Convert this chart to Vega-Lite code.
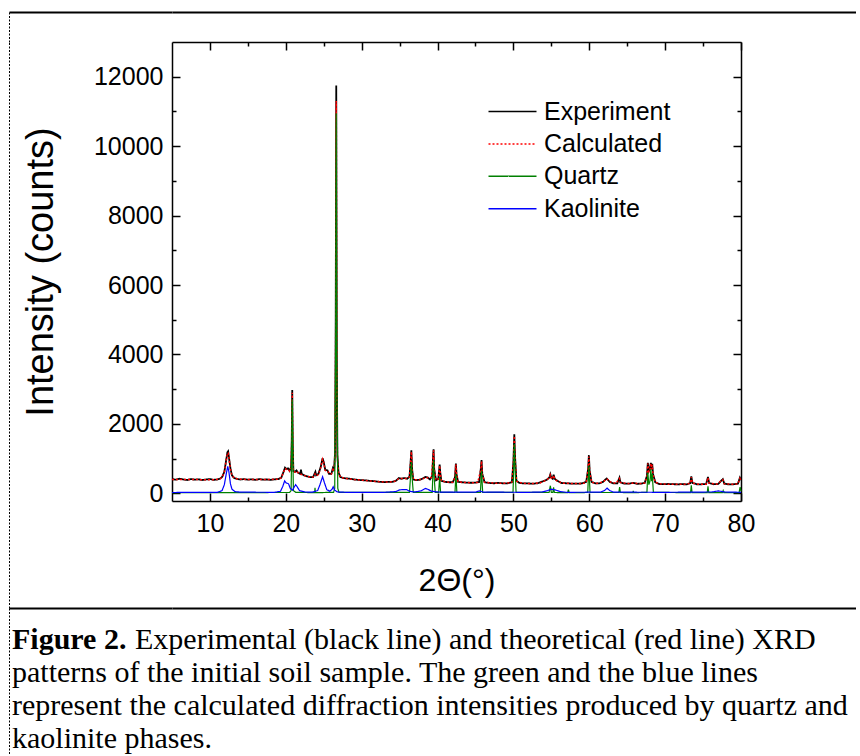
{
"$schema":"https://vega.github.io/schema/vega-lite/v6.json",
"padding":{"left":6,"top":12,"right":0,"bottom":0},
"columns":2,"spacing":0,"bounds":"flush","align":"each",
"config":{"view":{"stroke":null},"font":"Liberation Sans",
 "axis":{"grid":false,"domainColor":"black","tickColor":"black","labelColor":"black","titleColor":"black","labelFont":"Liberation Sans","titleFont":"Liberation Sans","titleFontWeight":"normal"}},
"datasets":{
"experiment":[
{"series":"Experiment","x":5.0,"y":410},{"series":"Experiment","x":5.5,"y":395},{"series":"Experiment","x":6.0,"y":420},{"series":"Experiment","x":6.5,"y":400},{"series":"Experiment","x":7.0,"y":385},{"series":"Experiment","x":7.5,"y":410},{"series":"Experiment","x":8.0,"y":395},{"series":"Experiment","x":8.5,"y":405},{"series":"Experiment","x":9.0,"y":385},{"series":"Experiment","x":9.5,"y":400},{"series":"Experiment","x":10.0,"y":410},{"series":"Experiment","x":10.5,"y":390},{"series":"Experiment","x":11.0,"y":400},{"series":"Experiment","x":11.3,"y":420},{"series":"Experiment","x":11.6,"y":470},{"series":"Experiment","x":11.9,"y":620},{"series":"Experiment","x":12.1,"y":900},{"series":"Experiment","x":12.3,"y":1180},{"series":"Experiment","x":12.4,"y":1210},{"series":"Experiment","x":12.5,"y":1050},{"series":"Experiment","x":12.7,"y":720},{"series":"Experiment","x":12.9,"y":520},{"series":"Experiment","x":13.2,"y":440},{"series":"Experiment","x":13.6,"y":415},{"series":"Experiment","x":14.0,"y":400},{"series":"Experiment","x":14.5,"y":410},{"series":"Experiment","x":15.0,"y":395},{"series":"Experiment","x":15.5,"y":405},{"series":"Experiment","x":16.0,"y":390},{"series":"Experiment","x":16.5,"y":410},{"series":"Experiment","x":17.0,"y":395},{"series":"Experiment","x":17.5,"y":400},{"series":"Experiment","x":18.0,"y":390},{"series":"Experiment","x":18.5,"y":405},{"series":"Experiment","x":19.0,"y":410},{"series":"Experiment","x":19.4,"y":450},{"series":"Experiment","x":19.7,"y":620},{"series":"Experiment","x":19.9,"y":740},{"series":"Experiment","x":20.1,"y":700},{"series":"Experiment","x":20.3,"y":720},{"series":"Experiment","x":20.5,"y":650},{"series":"Experiment","x":20.7,"y":760},{"series":"Experiment","x":20.78,"y":1500},{"series":"Experiment","x":20.85,"y":2980},{"series":"Experiment","x":20.92,"y":1400},{"series":"Experiment","x":21.0,"y":640},{"series":"Experiment","x":21.2,"y":620},{"series":"Experiment","x":21.4,"y":660},{"series":"Experiment","x":21.6,"y":600},{"series":"Experiment","x":21.9,"y":560},{"series":"Experiment","x":22.0,"y":680},{"series":"Experiment","x":22.1,"y":560},{"series":"Experiment","x":22.4,"y":520},{"series":"Experiment","x":22.8,"y":490},{"series":"Experiment","x":23.2,"y":470},{"series":"Experiment","x":23.6,"y":470},{"series":"Experiment","x":23.9,"y":620},{"series":"Experiment","x":24.0,"y":520},{"series":"Experiment","x":24.3,"y":560},{"series":"Experiment","x":24.6,"y":760},{"series":"Experiment","x":24.85,"y":1010},{"series":"Experiment","x":25.0,"y":900},{"series":"Experiment","x":25.2,"y":680},{"series":"Experiment","x":25.5,"y":660},{"series":"Experiment","x":25.7,"y":560},{"series":"Experiment","x":26.0,"y":560},{"series":"Experiment","x":26.2,"y":720},{"series":"Experiment","x":26.35,"y":640},{"series":"Experiment","x":26.5,"y":1200},{"series":"Experiment","x":26.58,"y":5000},{"series":"Experiment","x":26.65,"y":11750},{"series":"Experiment","x":26.72,"y":4000},{"series":"Experiment","x":26.8,"y":1100},{"series":"Experiment","x":26.95,"y":600},{"series":"Experiment","x":27.2,"y":470},{"series":"Experiment","x":27.6,"y":440},{"series":"Experiment","x":28.0,"y":430},{"series":"Experiment","x":28.5,"y":420},{"series":"Experiment","x":29.0,"y":400},{"series":"Experiment","x":29.5,"y":390},{"series":"Experiment","x":30.0,"y":380},{"series":"Experiment","x":30.5,"y":375},{"series":"Experiment","x":31.0,"y":360},{"series":"Experiment","x":31.5,"y":355},{"series":"Experiment","x":32.0,"y":340},{"series":"Experiment","x":32.5,"y":330},{"series":"Experiment","x":33.0,"y":325},{"series":"Experiment","x":33.5,"y":330},{"series":"Experiment","x":34.0,"y":330},{"series":"Experiment","x":34.5,"y":360},{"series":"Experiment","x":34.9,"y":440},{"series":"Experiment","x":35.2,"y":420},{"series":"Experiment","x":35.6,"y":440},{"series":"Experiment","x":36.0,"y":420},{"series":"Experiment","x":36.3,"y":480},{"series":"Experiment","x":36.45,"y":900},{"series":"Experiment","x":36.55,"y":1240},{"series":"Experiment","x":36.65,"y":700},{"series":"Experiment","x":36.8,"y":400},{"series":"Experiment","x":37.2,"y":380},{"series":"Experiment","x":37.6,"y":390},{"series":"Experiment","x":38.0,"y":420},{"series":"Experiment","x":38.4,"y":470},{"series":"Experiment","x":38.7,"y":460},{"series":"Experiment","x":39.0,"y":400},{"series":"Experiment","x":39.3,"y":500},{"series":"Experiment","x":39.42,"y":1100},{"series":"Experiment","x":39.48,"y":1270},{"series":"Experiment","x":39.56,"y":700},{"series":"Experiment","x":39.8,"y":380},{"series":"Experiment","x":40.1,"y":420},{"series":"Experiment","x":40.28,"y":830},{"series":"Experiment","x":40.35,"y":620},{"series":"Experiment","x":40.5,"y":360},{"series":"Experiment","x":41.0,"y":330},{"series":"Experiment","x":41.5,"y":320},{"series":"Experiment","x":42.0,"y":320},{"series":"Experiment","x":42.3,"y":460},{"series":"Experiment","x":42.42,"y":860},{"series":"Experiment","x":42.5,"y":560},{"series":"Experiment","x":42.7,"y":330},{"series":"Experiment","x":43.2,"y":320},{"series":"Experiment","x":43.8,"y":310},{"series":"Experiment","x":44.4,"y":305},{"series":"Experiment","x":45.0,"y":310},{"series":"Experiment","x":45.5,"y":330},{"series":"Experiment","x":45.7,"y":700},{"series":"Experiment","x":45.8,"y":960},{"series":"Experiment","x":45.9,"y":560},{"series":"Experiment","x":46.2,"y":320},{"series":"Experiment","x":46.8,"y":300},{"series":"Experiment","x":47.4,"y":290},{"series":"Experiment","x":48.0,"y":300},{"series":"Experiment","x":48.6,"y":290},{"series":"Experiment","x":49.2,"y":285},{"series":"Experiment","x":49.8,"y":320},{"series":"Experiment","x":50.0,"y":900},{"series":"Experiment","x":50.12,"y":1700},{"series":"Experiment","x":50.22,"y":1050},{"series":"Experiment","x":50.4,"y":360},{"series":"Experiment","x":50.8,"y":300},{"series":"Experiment","x":51.4,"y":285},{"series":"Experiment","x":52.0,"y":285},{"series":"Experiment","x":52.6,"y":280},{"series":"Experiment","x":53.2,"y":290},{"series":"Experiment","x":53.8,"y":340},{"series":"Experiment","x":54.4,"y":390},{"series":"Experiment","x":54.75,"y":460},{"series":"Experiment","x":54.87,"y":550},{"series":"Experiment","x":55.0,"y":450},{"series":"Experiment","x":55.18,"y":420},{"series":"Experiment","x":55.3,"y":540},{"series":"Experiment","x":55.45,"y":420},{"series":"Experiment","x":55.8,"y":360},{"series":"Experiment","x":56.3,"y":300},{"series":"Experiment","x":57.0,"y":290},{"series":"Experiment","x":57.7,"y":280},{"series":"Experiment","x":58.4,"y":280},{"series":"Experiment","x":59.0,"y":285},{"series":"Experiment","x":59.6,"y":330},{"series":"Experiment","x":59.85,"y":700},{"series":"Experiment","x":59.95,"y":1100},{"series":"Experiment","x":60.05,"y":650},{"series":"Experiment","x":60.3,"y":330},{"series":"Experiment","x":60.8,"y":290},{"series":"Experiment","x":61.3,"y":285},{"series":"Experiment","x":61.8,"y":330},{"series":"Experiment","x":62.3,"y":430},{"series":"Experiment","x":62.7,"y":330},{"series":"Experiment","x":63.2,"y":285},{"series":"Experiment","x":63.7,"y":290},{"series":"Experiment","x":63.98,"y":450},{"series":"Experiment","x":64.1,"y":320},{"series":"Experiment","x":64.6,"y":280},{"series":"Experiment","x":65.2,"y":280},{"series":"Experiment","x":65.8,"y":300},{"series":"Experiment","x":66.3,"y":275},{"series":"Experiment","x":66.8,"y":280},{"series":"Experiment","x":67.3,"y":300},{"series":"Experiment","x":67.6,"y":500},{"series":"Experiment","x":67.72,"y":880},{"series":"Experiment","x":67.85,"y":640},{"series":"Experiment","x":68.0,"y":700},{"series":"Experiment","x":68.12,"y":880},{"series":"Experiment","x":68.22,"y":700},{"series":"Experiment","x":68.3,"y":850},{"series":"Experiment","x":68.4,"y":560},{"series":"Experiment","x":68.7,"y":320},{"series":"Experiment","x":69.2,"y":270},{"series":"Experiment","x":69.8,"y":265},{"series":"Experiment","x":70.4,"y":270},{"series":"Experiment","x":71.0,"y":265},{"series":"Experiment","x":71.6,"y":260},{"series":"Experiment","x":72.2,"y":265},{"series":"Experiment","x":72.8,"y":260},{"series":"Experiment","x":73.3,"y":290},{"series":"Experiment","x":73.45,"y":490},{"series":"Experiment","x":73.6,"y":300},{"series":"Experiment","x":74.2,"y":260},{"series":"Experiment","x":74.8,"y":262},{"series":"Experiment","x":75.4,"y":270},{"series":"Experiment","x":75.65,"y":470},{"series":"Experiment","x":75.8,"y":300},{"series":"Experiment","x":76.4,"y":262},{"series":"Experiment","x":77.0,"y":270},{"series":"Experiment","x":77.6,"y":410},{"series":"Experiment","x":77.8,"y":280},{"series":"Experiment","x":78.4,"y":258},{"series":"Experiment","x":79.0,"y":262},{"series":"Experiment","x":79.6,"y":280},{"series":"Experiment","x":79.85,"y":450},{"series":"Experiment","x":80.0,"y":380}
],
"calculated":[
{"series":"Calculated","x":5,"y":400},{"series":"Calculated","x":7,"y":398},{"series":"Calculated","x":9,"y":395},{"series":"Calculated","x":10.5,"y":395},{"series":"Calculated","x":11.3,"y":415},{"series":"Calculated","x":11.6,"y":460},{"series":"Calculated","x":11.9,"y":620},{"series":"Calculated","x":12.1,"y":900},{"series":"Calculated","x":12.3,"y":1150},{"series":"Calculated","x":12.4,"y":1160},{"series":"Calculated","x":12.5,"y":1030},{"series":"Calculated","x":12.7,"y":700},{"series":"Calculated","x":12.9,"y":510},{"series":"Calculated","x":13.3,"y":430},{"series":"Calculated","x":14,"y":405},{"series":"Calculated","x":16,"y":398},{"series":"Calculated","x":18,"y":398},{"series":"Calculated","x":19,"y":410},{"series":"Calculated","x":19.4,"y":450},{"series":"Calculated","x":19.7,"y":610},{"series":"Calculated","x":19.9,"y":720},{"series":"Calculated","x":20.1,"y":690},{"series":"Calculated","x":20.3,"y":700},{"series":"Calculated","x":20.5,"y":640},{"series":"Calculated","x":20.7,"y":720},{"series":"Calculated","x":20.78,"y":1450},{"series":"Calculated","x":20.85,"y":2900},{"series":"Calculated","x":20.92,"y":1350},{"series":"Calculated","x":21.0,"y":630},{"series":"Calculated","x":21.2,"y":610},{"series":"Calculated","x":21.4,"y":640},{"series":"Calculated","x":21.7,"y":580},{"series":"Calculated","x":22.1,"y":540},{"series":"Calculated","x":22.5,"y":510},{"series":"Calculated","x":23,"y":480},{"series":"Calculated","x":23.6,"y":470},{"series":"Calculated","x":23.85,"y":560},{"series":"Calculated","x":24.0,"y":500},{"series":"Calculated","x":24.3,"y":540},{"series":"Calculated","x":24.6,"y":740},{"series":"Calculated","x":24.85,"y":980},{"series":"Calculated","x":25.0,"y":880},{"series":"Calculated","x":25.2,"y":660},{"series":"Calculated","x":25.5,"y":640},{"series":"Calculated","x":25.8,"y":560},{"series":"Calculated","x":26.0,"y":560},{"series":"Calculated","x":26.2,"y":690},{"series":"Calculated","x":26.35,"y":640},{"series":"Calculated","x":26.5,"y":1150},{"series":"Calculated","x":26.58,"y":4800},{"series":"Calculated","x":26.65,"y":11300},{"series":"Calculated","x":26.72,"y":3900},{"series":"Calculated","x":26.8,"y":1050},{"series":"Calculated","x":26.95,"y":590},{"series":"Calculated","x":27.2,"y":460},{"series":"Calculated","x":28,"y":425},{"series":"Calculated","x":29,"y":400},{"series":"Calculated","x":30,"y":380},{"series":"Calculated","x":31,"y":360},{"series":"Calculated","x":32,"y":340},{"series":"Calculated","x":33,"y":328},{"series":"Calculated","x":34,"y":332},{"series":"Calculated","x":34.5,"y":360},{"series":"Calculated","x":34.9,"y":430},{"series":"Calculated","x":35.4,"y":425},{"series":"Calculated","x":35.9,"y":430},{"series":"Calculated","x":36.3,"y":470},{"series":"Calculated","x":36.45,"y":880},{"series":"Calculated","x":36.55,"y":1200},{"series":"Calculated","x":36.65,"y":680},{"series":"Calculated","x":36.8,"y":400},{"series":"Calculated","x":37.4,"y":385},{"series":"Calculated","x":38.0,"y":410},{"series":"Calculated","x":38.4,"y":460},{"series":"Calculated","x":38.8,"y":440},{"series":"Calculated","x":39.2,"y":460},{"series":"Calculated","x":39.42,"y":1080},{"series":"Calculated","x":39.48,"y":1240},{"series":"Calculated","x":39.56,"y":680},{"series":"Calculated","x":39.8,"y":380},{"series":"Calculated","x":40.1,"y":410},{"series":"Calculated","x":40.28,"y":800},{"series":"Calculated","x":40.35,"y":600},{"series":"Calculated","x":40.5,"y":360},{"series":"Calculated","x":41.2,"y":325},{"series":"Calculated","x":42.0,"y":318},{"series":"Calculated","x":42.3,"y":450},{"series":"Calculated","x":42.42,"y":840},{"series":"Calculated","x":42.5,"y":550},{"series":"Calculated","x":42.7,"y":328},{"series":"Calculated","x":43.5,"y":315},{"series":"Calculated","x":44.5,"y":305},{"series":"Calculated","x":45.3,"y":315},{"series":"Calculated","x":45.7,"y":680},{"series":"Calculated","x":45.8,"y":930},{"series":"Calculated","x":45.9,"y":550},{"series":"Calculated","x":46.2,"y":318},{"series":"Calculated","x":47.5,"y":295},{"series":"Calculated","x":49,"y":290},{"series":"Calculated","x":49.8,"y":315},{"series":"Calculated","x":50.0,"y":880},{"series":"Calculated","x":50.12,"y":1650},{"series":"Calculated","x":50.22,"y":1020},{"series":"Calculated","x":50.4,"y":350},{"series":"Calculated","x":51.2,"y":290},{"series":"Calculated","x":52.5,"y":283},{"series":"Calculated","x":53.5,"y":300},{"series":"Calculated","x":54.2,"y":370},{"series":"Calculated","x":54.75,"y":450},{"series":"Calculated","x":54.87,"y":530},{"series":"Calculated","x":55.0,"y":440},{"series":"Calculated","x":55.18,"y":410},{"series":"Calculated","x":55.3,"y":520},{"series":"Calculated","x":55.45,"y":410},{"series":"Calculated","x":55.8,"y":350},{"series":"Calculated","x":56.5,"y":295},{"series":"Calculated","x":58,"y":282},{"series":"Calculated","x":59.3,"y":290},{"series":"Calculated","x":59.6,"y":320},{"series":"Calculated","x":59.85,"y":680},{"series":"Calculated","x":59.95,"y":1060},{"series":"Calculated","x":60.05,"y":630},{"series":"Calculated","x":60.3,"y":320},{"series":"Calculated","x":61,"y":288},{"series":"Calculated","x":61.8,"y":325},{"series":"Calculated","x":62.3,"y":420},{"series":"Calculated","x":62.8,"y":325},{"series":"Calculated","x":63.5,"y":285},{"series":"Calculated","x":63.98,"y":430},{"series":"Calculated","x":64.1,"y":315},{"series":"Calculated","x":65,"y":280},{"series":"Calculated","x":65.8,"y":295},{"series":"Calculated","x":66.5,"y":278},{"series":"Calculated","x":67.3,"y":295},{"series":"Calculated","x":67.6,"y":480},{"series":"Calculated","x":67.72,"y":860},{"series":"Calculated","x":67.85,"y":620},{"series":"Calculated","x":68.0,"y":680},{"series":"Calculated","x":68.12,"y":860},{"series":"Calculated","x":68.22,"y":680},{"series":"Calculated","x":68.3,"y":820},{"series":"Calculated","x":68.4,"y":540},{"series":"Calculated","x":68.7,"y":315},{"series":"Calculated","x":69.5,"y":268},{"series":"Calculated","x":71,"y":263},{"series":"Calculated","x":72.5,"y":262},{"series":"Calculated","x":73.3,"y":285},{"series":"Calculated","x":73.45,"y":470},{"series":"Calculated","x":73.6,"y":295},{"series":"Calculated","x":74.5,"y":260},{"series":"Calculated","x":75.4,"y":265},{"series":"Calculated","x":75.65,"y":450},{"series":"Calculated","x":75.8,"y":295},{"series":"Calculated","x":76.8,"y":265},{"series":"Calculated","x":77.6,"y":395},{"series":"Calculated","x":77.8,"y":275},{"series":"Calculated","x":79,"y":260},{"series":"Calculated","x":79.6,"y":275},{"series":"Calculated","x":79.85,"y":430},{"series":"Calculated","x":80.0,"y":370}
],
"quartz":[
{"series":"Quartz","x":5,"y":20},{"series":"Quartz","x":20.5,"y":25},{"series":"Quartz","x":20.7,"y":80},{"series":"Quartz","x":20.78,"y":1300},{"series":"Quartz","x":20.85,"y":2700},{"series":"Quartz","x":20.92,"y":1200},{"series":"Quartz","x":21.0,"y":80},{"series":"Quartz","x":21.3,"y":30},{"series":"Quartz","x":23.8,"y":20},{"series":"Quartz","x":23.85,"y":160},{"series":"Quartz","x":23.9,"y":20},{"series":"Quartz","x":26.3,"y":30},{"series":"Quartz","x":26.45,"y":150},{"series":"Quartz","x":26.58,"y":4500},{"series":"Quartz","x":26.65,"y":10950},{"series":"Quartz","x":26.72,"y":3700},{"series":"Quartz","x":26.85,"y":150},{"series":"Quartz","x":27.0,"y":30},{"series":"Quartz","x":36.3,"y":30},{"series":"Quartz","x":36.45,"y":500},{"series":"Quartz","x":36.55,"y":900},{"series":"Quartz","x":36.65,"y":450},{"series":"Quartz","x":36.8,"y":30},{"series":"Quartz","x":39.3,"y":30},{"series":"Quartz","x":39.42,"y":750},{"series":"Quartz","x":39.48,"y":950},{"series":"Quartz","x":39.56,"y":450},{"series":"Quartz","x":39.7,"y":30},{"series":"Quartz","x":40.15,"y":30},{"series":"Quartz","x":40.28,"y":480},{"series":"Quartz","x":40.4,"y":30},{"series":"Quartz","x":42.3,"y":25},{"series":"Quartz","x":42.42,"y":560},{"series":"Quartz","x":42.55,"y":25},{"series":"Quartz","x":45.65,"y":25},{"series":"Quartz","x":45.8,"y":650},{"series":"Quartz","x":45.95,"y":25},{"series":"Quartz","x":49.95,"y":30},{"series":"Quartz","x":50.05,"y":800},{"series":"Quartz","x":50.12,"y":1420},{"series":"Quartz","x":50.22,"y":750},{"series":"Quartz","x":50.35,"y":30},{"series":"Quartz","x":54.7,"y":25},{"series":"Quartz","x":54.87,"y":220},{"series":"Quartz","x":55.0,"y":25},{"series":"Quartz","x":55.2,"y":25},{"series":"Quartz","x":55.3,"y":170},{"series":"Quartz","x":55.4,"y":25},{"series":"Quartz","x":57.15,"y":20},{"series":"Quartz","x":57.25,"y":110},{"series":"Quartz","x":57.35,"y":20},{"series":"Quartz","x":59.8,"y":25},{"series":"Quartz","x":59.95,"y":800},{"series":"Quartz","x":60.1,"y":25},{"series":"Quartz","x":63.9,"y":25},{"series":"Quartz","x":64.0,"y":180},{"series":"Quartz","x":64.1,"y":25},{"series":"Quartz","x":65.75,"y":20},{"series":"Quartz","x":65.8,"y":70},{"series":"Quartz","x":65.85,"y":20},{"series":"Quartz","x":67.6,"y":30},{"series":"Quartz","x":67.72,"y":600},{"series":"Quartz","x":67.85,"y":250},{"series":"Quartz","x":68.0,"y":350},{"series":"Quartz","x":68.12,"y":700},{"series":"Quartz","x":68.22,"y":350},{"series":"Quartz","x":68.3,"y":550},{"series":"Quartz","x":68.45,"y":30},{"series":"Quartz","x":73.35,"y":20},{"series":"Quartz","x":73.45,"y":230},{"series":"Quartz","x":73.55,"y":20},{"series":"Quartz","x":75.55,"y":20},{"series":"Quartz","x":75.65,"y":200},{"series":"Quartz","x":75.75,"y":20},{"series":"Quartz","x":77.55,"y":20},{"series":"Quartz","x":77.65,"y":80},{"series":"Quartz","x":77.75,"y":20},{"series":"Quartz","x":79.75,"y":20},{"series":"Quartz","x":79.88,"y":180},{"series":"Quartz","x":80,"y":60}
],
"kaolinite":[
{"series":"Kaolinite","x":5,"y":25},{"series":"Kaolinite","x":11.0,"y":30},{"series":"Kaolinite","x":11.6,"y":80},{"series":"Kaolinite","x":11.9,"y":250},{"series":"Kaolinite","x":12.15,"y":560},{"series":"Kaolinite","x":12.35,"y":780},{"series":"Kaolinite","x":12.5,"y":620},{"series":"Kaolinite","x":12.7,"y":280},{"series":"Kaolinite","x":12.9,"y":120},{"series":"Kaolinite","x":13.3,"y":50},{"series":"Kaolinite","x":14,"y":35},{"series":"Kaolinite","x":18.5,"y":30},{"series":"Kaolinite","x":19.3,"y":60},{"series":"Kaolinite","x":19.6,"y":200},{"series":"Kaolinite","x":19.85,"y":360},{"series":"Kaolinite","x":20.05,"y":300},{"series":"Kaolinite","x":20.35,"y":280},{"series":"Kaolinite","x":20.6,"y":140},{"series":"Kaolinite","x":20.9,"y":90},{"series":"Kaolinite","x":21.1,"y":180},{"series":"Kaolinite","x":21.3,"y":250},{"series":"Kaolinite","x":21.5,"y":190},{"series":"Kaolinite","x":21.8,"y":80},{"series":"Kaolinite","x":22.5,"y":40},{"series":"Kaolinite","x":23.5,"y":35},{"series":"Kaolinite","x":24.2,"y":80},{"series":"Kaolinite","x":24.5,"y":250},{"series":"Kaolinite","x":24.85,"y":480},{"series":"Kaolinite","x":25.1,"y":300},{"series":"Kaolinite","x":25.4,"y":110},{"series":"Kaolinite","x":25.8,"y":60},{"series":"Kaolinite","x":26.1,"y":120},{"series":"Kaolinite","x":26.25,"y":190},{"series":"Kaolinite","x":26.45,"y":90},{"series":"Kaolinite","x":26.8,"y":40},{"series":"Kaolinite","x":28,"y":30},{"series":"Kaolinite","x":33,"y":30},{"series":"Kaolinite","x":34.5,"y":50},{"series":"Kaolinite","x":35.0,"y":100},{"series":"Kaolinite","x":35.4,"y":110},{"series":"Kaolinite","x":35.9,"y":110},{"series":"Kaolinite","x":36.3,"y":60},{"series":"Kaolinite","x":37,"y":40},{"series":"Kaolinite","x":37.8,"y":70},{"series":"Kaolinite","x":38.4,"y":140},{"series":"Kaolinite","x":38.8,"y":110},{"series":"Kaolinite","x":39.2,"y":60},{"series":"Kaolinite","x":40,"y":40},{"series":"Kaolinite","x":41,"y":35},{"series":"Kaolinite","x":45,"y":35},{"series":"Kaolinite","x":45.5,"y":70},{"series":"Kaolinite","x":46,"y":35},{"series":"Kaolinite","x":52,"y":30},{"series":"Kaolinite","x":53.8,"y":40},{"series":"Kaolinite","x":54.5,"y":80},{"series":"Kaolinite","x":55.0,"y":120},{"series":"Kaolinite","x":55.5,"y":100},{"series":"Kaolinite","x":56.2,"y":50},{"series":"Kaolinite","x":57,"y":30},{"series":"Kaolinite","x":61.5,"y":35},{"series":"Kaolinite","x":62.0,"y":80},{"series":"Kaolinite","x":62.35,"y":150},{"series":"Kaolinite","x":62.7,"y":80},{"series":"Kaolinite","x":63.2,"y":35},{"series":"Kaolinite","x":70,"y":30},{"series":"Kaolinite","x":76.2,"y":40},{"series":"Kaolinite","x":77,"y":70},{"series":"Kaolinite","x":77.8,"y":40},{"series":"Kaolinite","x":80,"y":30}
],
"caption":[
{"line":1,"part":"label","text":"Figure 2."},
{"line":1,"part":"body","text":"Experimental (black line) and theoretical (red line) XRD"},
{"line":2,"part":"body","text":"patterns of the initial soil sample. The green and the blue lines"},
{"line":3,"part":"body","text":"represent the calculated diffraction intensities produced by quartz and"},
{"line":4,"part":"body","text":"kaolinite phases."}
],
"blank":[{"k":0}]
},
"concat":[
{"width":163,"height":30,"data":{"name":"blank"},"mark":{"type":"point","opacity":0},
 "encoding":{"x":{"datum":0,"type":"quantitative","scale":{"domain":[0,1]},"axis":{"orient":"top","domainWidth":2,"ticks":false,"labels":false,"title":null}},
  "y":{"datum":0,"type":"quantitative","scale":{"domain":[0,1]},"axis":{"orient":"left","domainDash":[2,1.5],"domainWidth":1,"ticks":false,"labels":false,"title":null}}}},
{"width":684,"height":30,"data":{"name":"blank"},"mark":{"type":"point","opacity":0},
 "encoding":{"x":{"datum":0,"type":"quantitative","scale":{"domain":[0,1]},"axis":{"orient":"top","domainWidth":2,"ticks":false,"labels":false,"title":null}},
  "y":{"datum":0,"type":"quantitative","scale":{"domain":[0,1]},"axis":null}}},
{"width":163,"height":566,"data":{"name":"blank"},"mark":{"type":"point","opacity":0},
 "encoding":{"x":{"datum":0,"type":"quantitative","scale":{"domain":[0,1]},"axis":null},
  "y":{"datum":0,"type":"quantitative","scale":{"domain":[0,1]},"axis":{"orient":"left","domainDash":[2,1.5],"domainWidth":1,"ticks":false,"labels":false,"title":null}}}},
{"width":569,"height":459,
 "layer":[
  {"data":{"name":"experiment"},"mark":{"type":"line","strokeWidth":1.8},
   "encoding":{
    "x":{"field":"x","type":"quantitative","scale":{"domain":[5,80],"nice":false,"zero":false},
     "axis":{"orient":"bottom","values":[10,15,20,25,30,35,40,45,50,55,60,65,70,75,80],"labelExpr":"datum.value % 10 === 0 ? datum.label : ''","tickSize":{"condition":{"test":"datum.value % 10 === 0","value":-8},"value":-4},"tickWidth":1.5,"domainWidth":1.5,"labelFontSize":25,"labelPadding":18.5,"labelFlush":false,"labelOverlap":false,"labelBound":false,"title":"2Θ(°)","titleFontSize":32,"titlePadding":25}},
    "y":{"field":"y","type":"quantitative","scale":{"domain":[-220,13000],"nice":false,"zero":false},
     "axis":{"orient":"left","values":[0,1000,2000,3000,4000,5000,6000,7000,8000,9000,10000,11000,12000],"format":"d","labelExpr":"datum.value % 2000 === 0 ? datum.label : ''","tickSize":{"condition":{"test":"datum.value % 2000 === 0","value":-8},"value":-4},"tickWidth":1.5,"domainWidth":1.5,"labelFontSize":25,"labelPadding":17,"labelOverlap":false,"labelFlush":false,"title":"Intensity (counts)","titleFontSize":38,"titlePadding":33}},
    "color":{"field":"series","type":"nominal","scale":{"domain":["Experiment","Calculated","Quartz","Kaolinite"],"range":["#000000","#ff0000","#008000","#0000ff"]},
     "legend":{"orient":"none","legendX":491,"legendY":87,"title":null,"symbolType":"M-2.4,0H2.4","symbolSize":400,"symbolStrokeWidth":1.5,"labelFontSize":25,"labelFont":"Liberation Sans","labelColor":"black","labelOffset":19,"rowPadding":6.4,"padding":0,"labelLimit":0}},
    "strokeDash":{"field":"series","type":"nominal","scale":{"domain":["Experiment","Calculated","Quartz","Kaolinite"],"range":[[1,0],[2,2],[1,0],[1,0]]},
     "legend":{"orient":"none","legendX":491,"legendY":87,"title":null,"symbolType":"M-2.4,0H2.4","symbolSize":400,"symbolStrokeWidth":1.5,"labelFontSize":25,"labelFont":"Liberation Sans","labelColor":"black","labelOffset":19,"rowPadding":6.4,"padding":0,"labelLimit":0}}}},
  {"data":{"name":"calculated"},"mark":{"type":"line","strokeWidth":1.5},
   "encoding":{"x":{"field":"x","type":"quantitative","axis":null},"y":{"field":"y","type":"quantitative","axis":null},
    "color":{"field":"series","type":"nominal"},"strokeDash":{"field":"series","type":"nominal"}}},
  {"data":{"name":"quartz"},"mark":{"type":"line","strokeWidth":1.2},
   "encoding":{
    "x":{"field":"x","type":"quantitative","axis":{"orient":"top","values":[10,15,20,25,30,35,40,45,50,55,60,65,70,75,80],"labels":false,"title":null,"tickSize":{"condition":{"test":"datum.value % 10 === 0","value":-8},"value":-4},"tickWidth":1.5,"domainWidth":1.5}},
    "y":{"field":"y","type":"quantitative","axis":{"orient":"right","values":[0,1000,2000,3000,4000,5000,6000,7000,8000,9000,10000,11000,12000],"labels":false,"title":null,"tickSize":{"condition":{"test":"datum.value % 2000 === 0","value":-8},"value":-4},"tickWidth":1.5,"domainWidth":1.5}},
    "color":{"field":"series","type":"nominal"},"strokeDash":{"field":"series","type":"nominal"}}},
  {"data":{"name":"kaolinite"},"mark":{"type":"line","strokeWidth":1.2},
   "encoding":{"x":{"field":"x","type":"quantitative","axis":null},"y":{"field":"y","type":"quantitative","axis":null},
    "color":{"field":"series","type":"nominal"},"strokeDash":{"field":"series","type":"nominal"}}}
 ],
 "resolve":{"axis":{"x":"independent","y":"independent"}}},
{"width":163,"height":146,"data":{"name":"caption"},
 "encoding":{
  "x":{"datum":0,"type":"quantitative","scale":{"domain":[0,163],"nice":false,"zero":false},"axis":{"orient":"top","domainWidth":2,"ticks":false,"labels":false,"title":null}},
  "y":{"field":"line","type":"quantitative","scale":{"domain":[0.0303,4.4545],"reverse":true,"nice":false,"zero":false},"axis":{"orient":"left","domainDash":[2,1.5],"domainWidth":1,"ticks":false,"labels":false,"title":null}},
  "text":{"field":"text"}},
 "layer":[
  {"transform":[{"filter":"datum.part === 'label'"}],"mark":{"type":"text","font":"Liberation Serif","fontSize":30,"fontWeight":"bold","align":"left","baseline":"middle","color":"black","dx":3}},
  {"transform":[{"filter":"datum.part === 'body' && datum.line === 1"}],"mark":{"type":"text","font":"Liberation Serif","fontSize":30,"align":"left","baseline":"middle","color":"black","dx":126}},
  {"transform":[{"filter":"datum.part === 'body' && datum.line > 1"}],"mark":{"type":"text","font":"Liberation Serif","fontSize":30,"align":"left","baseline":"middle","color":"black","dx":3}}
 ]},
{"width":684,"height":146,"data":{"name":"blank"},"mark":{"type":"point","opacity":0},
 "encoding":{"x":{"datum":0,"type":"quantitative","scale":{"domain":[0,1]},"axis":{"orient":"top","domainWidth":2,"ticks":false,"labels":false,"title":null}},
  "y":{"datum":0,"type":"quantitative","scale":{"domain":[0,1]},"axis":null}}}
]
}
